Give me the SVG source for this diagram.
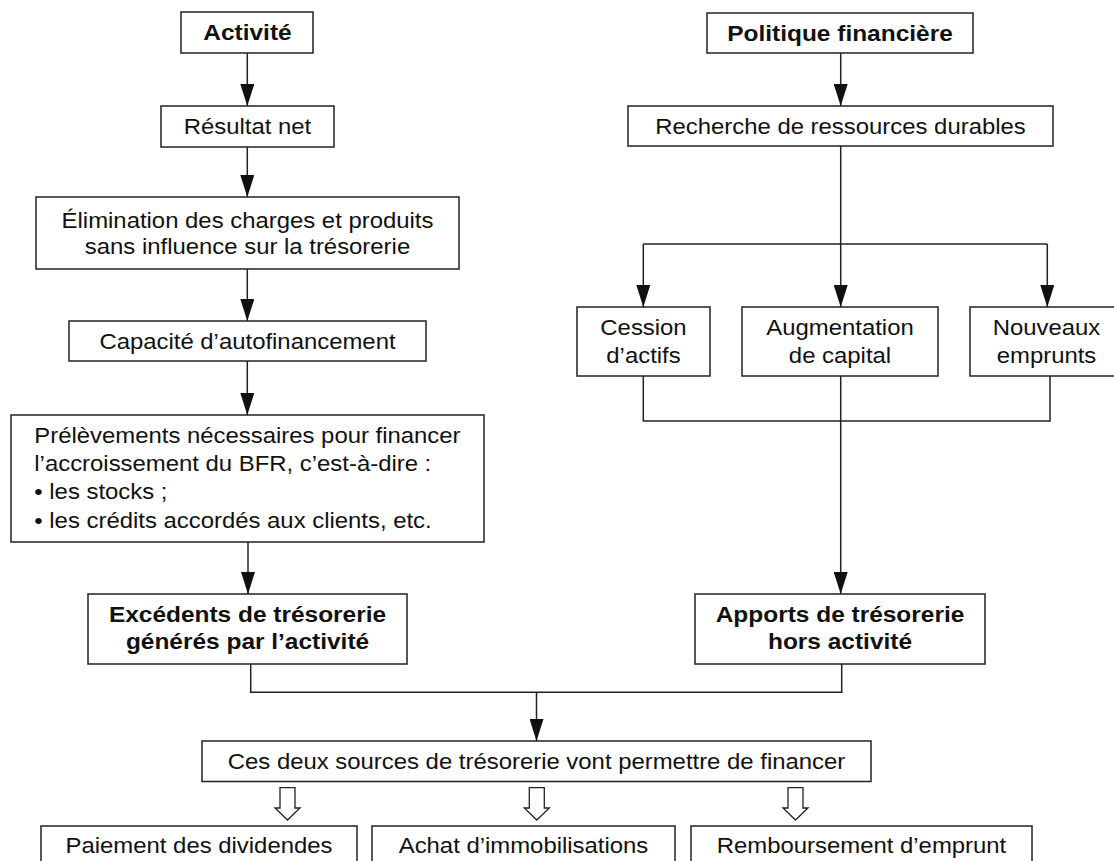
<svg xmlns="http://www.w3.org/2000/svg" width="1114" height="861" viewBox="0 0 1114 861">
<defs>
<style>
.box{fill:#fff;stroke:#222;stroke-width:1.5}
.t{font-family:"Liberation Sans",Arial,Helvetica,sans-serif;font-size:21.5px;fill:#111;text-anchor:middle}
.b{font-weight:bold;font-size:22px}
.l{text-anchor:start}
.c{fill:none;stroke:#222;stroke-width:1.5}
.a{marker-end:url(#ah)}
.h{fill:#fff;stroke:#222;stroke-width:1.3}
</style>
<marker id="ah" viewBox="0 0 22 14" refX="22" refY="7" markerWidth="22" markerHeight="14" markerUnits="userSpaceOnUse" orient="auto">
<path d="M0,0 L22,7 L0,14 Z" fill="#111"/>
</marker>
</defs>
<rect width="1114" height="861" fill="#fff"/>

<g id="activite">
<rect class="box" x="181" y="12" width="132" height="41"/>
<text class="t b" transform="translate(247.5 40) scale(1.112 1)">Activité</text>
</g>
<g id="resultat">
<rect class="box" x="161" y="106" width="173" height="41"/>
<text class="t" transform="translate(247.5 134) scale(1.112 1)">Résultat net</text>
</g>
<g id="elimination">
<rect class="box" x="36" y="197" width="423" height="72"/>
<text class="t" transform="translate(247.5 227.5) scale(1.112 1)"><tspan x="0" y="0">Élimination des charges et produits</tspan><tspan x="0" dy="26.5">sans influence sur la trésorerie</tspan></text>
</g>
<g id="caf">
<rect class="box" x="69" y="321" width="357" height="40"/>
<text class="t" transform="translate(247.5 348.7) scale(1.112 1)">Capacité d’autofinancement</text>
</g>
<g id="prelevements">
<rect class="box" x="11" y="415" width="473" height="127"/>
<text class="t l" transform="translate(34.3 442.7) scale(1.112 1)"><tspan x="0" y="0">Prélèvements nécessaires pour financer</tspan><tspan x="0" dy="28.3">l’accroissement du BFR, c’est-à-dire :</tspan><tspan x="0" dy="28.3">• les stocks ;</tspan><tspan x="0" dy="28.3">• les crédits accordés aux clients, etc.</tspan></text>
</g>
<g id="excedents">
<rect class="box" x="88" y="594" width="319" height="70"/>
<text class="t b" transform="translate(247.5 621.7) scale(1.112 1)"><tspan x="0" y="0">Excédents de trésorerie</tspan><tspan x="0" dy="27.6">générés par l’activité</tspan></text>
</g>

<g id="politique">
<rect class="box" x="707" y="13" width="266" height="40"/>
<text class="t b" transform="translate(840 40.5) scale(1.112 1)">Politique financière</text>
</g>
<g id="recherche">
<rect class="box" x="628" y="106" width="425" height="40"/>
<text class="t" transform="translate(840.5 133.7) scale(1.112 1)">Recherche de ressources durables</text>
</g>
<g id="cession">
<rect class="box" x="577" y="307" width="133" height="69"/>
<text class="t" transform="translate(643.5 335.2) scale(1.112 1)"><tspan x="0" y="0">Cession</tspan><tspan x="0" dy="27.6">d’actifs</tspan></text>
</g>
<g id="augmentation">
<rect class="box" x="742" y="307" width="196" height="69"/>
<text class="t" transform="translate(840 335.2) scale(1.112 1)"><tspan x="0" y="0">Augmentation</tspan><tspan x="0" dy="27.6">de capital</tspan></text>
</g>
<g id="nouveaux">
<rect class="box" x="970" y="307" width="153" height="69"/>
<text class="t" transform="translate(1046.5 335.2) scale(1.112 1)"><tspan x="0" y="0">Nouveaux</tspan><tspan x="0" dy="27.6">emprunts</tspan></text>
</g>
<g id="apports">
<rect class="box" x="695" y="594" width="290" height="70"/>
<text class="t b" transform="translate(840 621.7) scale(1.112 1)"><tspan x="0" y="0">Apports de trésorerie</tspan><tspan x="0" dy="27.6">hors activité</tspan></text>
</g>

<g id="sources">
<rect class="box" x="202" y="741" width="669" height="40.5"/>
<text class="t" transform="translate(536.5 768.6) scale(1.112 1)">Ces deux sources de trésorerie vont permettre de financer</text>
</g>
<g id="dividendes">
<rect class="box" x="41" y="826" width="316" height="60"/>
<text class="t" transform="translate(199 852.5) scale(1.112 1)">Paiement des dividendes</text>
</g>
<g id="immobilisations">
<rect class="box" x="372" y="826" width="303" height="60"/>
<text class="t" transform="translate(523.5 852.5) scale(1.112 1)">Achat d’immobilisations</text>
</g>
<g id="remboursement">
<rect class="box" x="691" y="826" width="341" height="60"/>
<text class="t" transform="translate(861.5 852.5) scale(1.112 1)">Remboursement d’emprunt</text>
</g>

<g id="connectors">
<path class="c a" d="M247.3,53 V106"/>
<path class="c a" d="M247.3,147 V197"/>
<path class="c a" d="M247.3,269 V321"/>
<path class="c a" d="M247.3,361 V415"/>
<path class="c a" d="M248,542 V594"/>
<path class="c a" d="M840.7,53 V106"/>
<path class="c" d="M840.7,146 V244 M643.3,244 H1047.3"/>
<path class="c a" d="M643.3,244 V307"/>
<path class="c a" d="M840.7,244 V307"/>
<path class="c a" d="M1047.3,244 V307"/>
<path class="c" d="M643.3,376 V421 H1050 V376"/>
<path class="c a" d="M840.7,376 V594"/>
<path class="c" d="M250.7,664 V692.3 H841.7 V664"/>
<path class="c a" d="M536.5,692.3 V741"/>
<path class="h" d="M280,787.7 V808 H275 L287.5,820 L300,808 H295 V787.7 Z"/>
<path class="h" d="M529.3,787.7 V808 H524.3 L536.8,820 L549.3,808 H544.3 V787.7 Z"/>
<path class="h" d="M788,787.7 V808 H783 L795.5,820 L808,808 H803 V787.7 Z"/>
</g>
</svg>
